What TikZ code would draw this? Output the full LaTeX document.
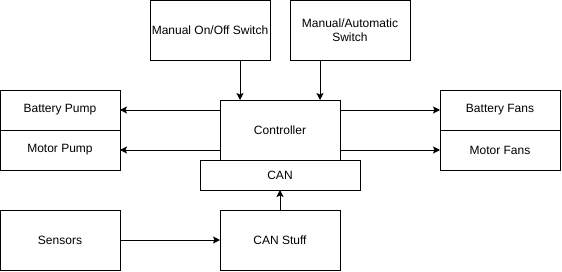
\documentclass[tikz,border=0pt]{standalone}
\usepackage{fontspec}
\setmainfont{Liberation Sans}
\usetikzlibrary{arrows.meta}
\begin{document}
\begin{tikzpicture}[x=1pt,y=-1pt,
  box/.style={draw=black,line width=1pt,fill=white,inner sep=0pt,outer sep=0pt,
    align=center,font=\fontsize{12}{14}\selectfont},
  link/.style={line width=1pt,-{Stealth[length=7pt,width=7pt,inset=1.5pt]}}]
  \useasboundingbox (0,0) rectangle (562,271);
  % control inputs
  \node[box,minimum width=120pt,minimum height=60pt] (onoff) at (210,30) {Manual On/Off Switch};
  \node[box,minimum width=120pt,minimum height=60pt] (mode) at (350,30) {Manual/Automatic\\Switch};
  % controller and bus
  \node[box,minimum width=120pt,minimum height=60pt] (ctrl) at (280,130) {Controller};
  \node[box,minimum width=160pt,minimum height=30pt] (can) at (280,175) {CAN};
  % outputs
  \node[box,minimum width=120pt,minimum height=40pt] (bpump) at (60,110) {Battery Pump};
  \node[box,minimum width=120pt,minimum height=40pt] (mpump) at (60,150) {Motor Pump};
  \node[box,minimum width=120pt,minimum height=40pt] (bfans) at (500,110) {Battery Fans};
  \node[box,minimum width=120pt,minimum height=40pt] (mfans) at (500,150) {Motor Fans};
  % sensing side
  \node[box,minimum width=120pt,minimum height=60pt] (sens) at (60,240) {Sensors};
  \node[box,minimum width=120pt,minimum height=60pt] (canstuff) at (280,240) {CAN Stuff};
  % connectors
  \draw[link] ([xshift=30pt]onoff.south) -- ([xshift=-40pt]ctrl.north);
  \draw[link] ([xshift=-30pt]mode.south) -- ([xshift=40pt]ctrl.north);
  \draw[link] (ctrl.west |- bpump.east) -- (bpump.east);
  \draw[link] (ctrl.west |- mpump.east) -- (mpump.east);
  \draw[link] (ctrl.east |- bfans.west) -- (bfans.west);
  \draw[link] (ctrl.east |- mfans.west) -- (mfans.west);
  \draw[link] (sens.east) -- (canstuff.west);
  \draw[link] (canstuff.north) -- (can.south);
\end{tikzpicture}
\end{document}
